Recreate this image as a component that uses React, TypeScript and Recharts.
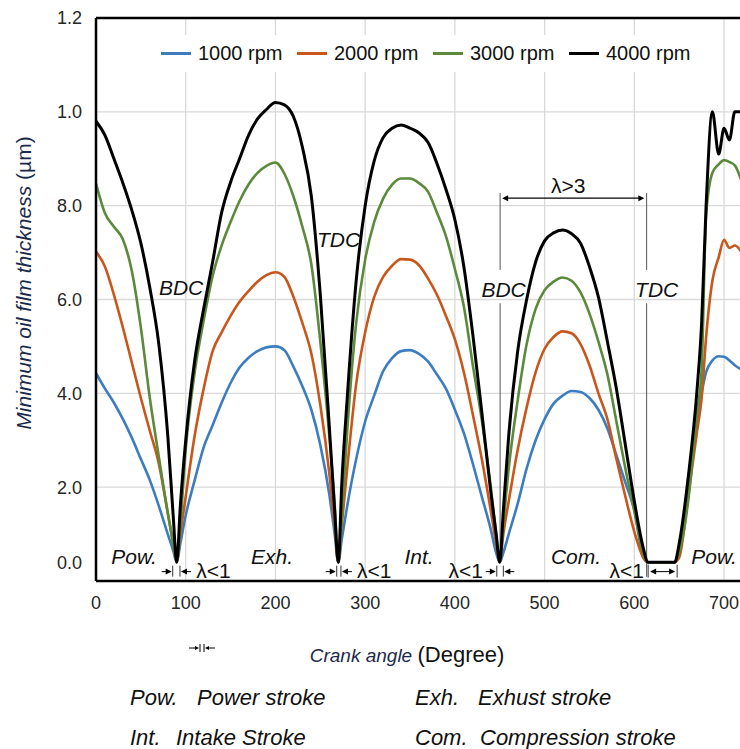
import React from "react";
import { LineChart, Line, XAxis, YAxis, CartesianGrid, ReferenceLine, ReferenceDot } from "recharts";

// ---------- data ----------
const angles = [0,10,20,30,40,50,60,70,80,86,90,94,100,110,120,130,140,150,160,170,180,190,200,210,220,230,240,250,260,266,270,274,280,290,300,310,320,330,340,350,360,370,380,390,400,410,420,430,440,446,450,454,460,470,480,490,500,510,520,530,540,550,560,570,580,590,600,610,615,630,645,650,660,670,675,680,687,694,700,706,712,720];

const rpm1000 = [0.443,0.41,0.38,0.345,0.305,0.26,0.215,0.16,0.10,
  0.065,0.04,0.08,
  0.14,0.215,0.285,0.332,0.38,0.422,0.455,0.476,0.49,0.498,0.50,0.492,0.457,0.415,0.365,0.29,0.185,
  0.10,0.04,0.09,
  0.16,0.26,0.34,0.395,0.447,0.475,0.49,0.492,0.484,0.468,0.44,0.41,0.365,0.315,0.25,0.18,0.11,
  0.06,0.04,0.06,
  0.10,0.165,0.24,0.30,0.345,0.378,0.395,0.405,0.403,0.39,0.365,0.325,0.268,0.21,0.15,0.05,
  0.04,0.04,0.04,0.07,
  0.20,0.34,0.40,0.445,
  0.47,0.479,0.478,0.47,0.46,0.45];

const rpm2000 = [0.702,0.67,0.61,0.54,0.465,0.39,0.32,0.25,0.145,
  0.08,0.04,0.10,
  0.18,0.31,0.41,0.49,0.53,0.565,0.595,0.618,0.638,0.652,0.658,0.648,0.606,0.55,0.485,0.375,0.23,
  0.12,0.04,0.12,
  0.24,0.42,0.53,0.605,0.648,0.672,0.686,0.685,0.673,0.645,0.61,0.565,0.515,0.445,0.355,0.26,0.15,
  0.08,0.04,0.10,
  0.17,0.28,0.37,0.445,0.495,0.52,0.532,0.528,0.505,0.46,0.40,0.345,0.26,0.18,0.105,0.05,
  0.04,0.04,0.04,0.05,
  0.18,0.32,0.39,0.52,
  0.64,0.69,0.727,0.71,0.715,0.70];

const rpm3000 = [0.847,0.784,0.755,0.728,0.66,0.54,0.39,0.265,0.145,
  0.08,0.04,0.12,
  0.28,0.445,0.555,0.65,0.715,0.765,0.81,0.845,0.87,0.885,0.892,0.868,0.82,0.755,0.675,0.51,0.31,
  0.165,0.04,0.14,
  0.32,0.55,0.685,0.765,0.815,0.845,0.858,0.858,0.848,0.83,0.785,0.735,0.665,0.585,0.46,0.343,0.20,
  0.10,0.04,0.12,
  0.24,0.385,0.505,0.58,0.62,0.638,0.647,0.64,0.615,0.57,0.51,0.44,0.34,0.24,0.15,0.06,
  0.04,0.04,0.04,0.06,
  0.17,0.36,0.45,0.78,
  0.87,0.888,0.897,0.893,0.886,0.85];

const rpm4000 = [0.98,0.95,0.90,0.848,0.79,0.72,0.625,0.505,0.31,
  0.14,0.04,0.16,
  0.30,0.47,0.58,0.68,0.785,0.85,0.90,0.95,0.985,1.005,1.02,1.015,0.99,0.925,0.82,0.61,0.33,
  0.15,0.04,0.21,
  0.39,0.64,0.80,0.895,0.945,0.965,0.972,0.965,0.955,0.935,0.89,0.835,0.77,0.67,0.525,0.36,0.19,
  0.10,0.04,0.15,
  0.31,0.49,0.60,0.68,0.725,0.742,0.748,0.74,0.72,0.67,0.605,0.51,0.41,0.29,0.17,0.07,
  0.04,0.04,0.04,0.08,
  0.22,0.41,0.55,0.80,
  1.0,0.91,0.965,0.94,1.0,1.0];

const seriesKeys = ["s1000", "s2000", "s3000", "s4000"];
const seriesNames = ["1000 rpm", "2000 rpm", "3000 rpm", "4000 rpm"];
const seriesValues = [rpm1000, rpm2000, rpm3000, rpm4000];
const seriesColors = ["#3B7DC0", "#C9561A", "#5A8A3A", "#000000"];

const xTicks = [0, 100, 200, 300, 400, 500, 600, 700];
const yTicks = [0, 0.2, 0.4, 0.6, 0.8, 1.0, 1.2];
const yTickLabels = ["0.0", "2.0", "4.0", "6.0", "8.0", "1.0", "1.2"];

// annotations (data coordinates)
const strokeLabels = [
  { angle: 42.4, text: "Pow." },
  { angle: 196.2, text: "Exh." },
  { angle: 360, text: "Int." },
  { angle: 535, text: "Com." },
  { angle: 688.9, text: "Pow." },
];
const deadCenterLabels = [
  { angle: 94.8, value: 0.609, text: "BDC" },
  { angle: 270.3, value: 0.712, text: "TDC" },
  { angle: 454.3, value: 0.605, text: "BDC" },
  { angle: 624.9, value: 0.605, text: "TDC" },
];
const lambdaLowLabels = [131, 310, 412, 591.4];
const gapMarks = [
  { left: 85.5, right: 93.6 },
  { left: 268.3, right: 273 },
  { left: 446.7, right: 454 },
];
const flatMark = { left: 615.4, right: 647.7 };
const highRange = { left: 451.5, right: 612.3, value: 0.816 };
const guideLines = [450.4, 613.7];

const data = angles.map((a, i) => {
  const row: any = { angle: a };
  seriesKeys.forEach((k, j) => (row[k] = seriesValues[j][i]));
  return row;
});

const FONT = "'Liberation Sans', Arial, sans-serif";

const XTick = (p: any) => (
  <text x={p.x} y={p.y} dy={20.4} textAnchor="middle" fontSize={18} fill="#262626" fontFamily={FONT}>
    {p.payload.value}
  </text>
);

const YTick = (p: any) => {
  const idx = yTicks.indexOf(p.payload.value);
  const shift = p.payload.value === 0 ? -18 : 0;
  return (
    <text x={p.x} y={p.y + shift} dy="0.355em" textAnchor="end" fontSize={18} fill="#262626" fontFamily={FONT}>
      {yTickLabels[idx]}
    </text>
  );
};

const head = (tipX: number, y: number, dir: number, key: string) => (
  <polygon key={key} points={`${tipX},${y} ${tipX - dir * 6},${y - 3} ${tipX - dir * 6},${y + 3}`} fill="#000" />
);

const GapShape = (p: any) => {
  const { x1, x2, y1 } = p;
  const y = y1;
  return (
    <g>
      <line x1={x1} y1={y - 6} x2={x1} y2={y + 5} stroke="#333" strokeWidth={1} />
      <line x1={x2} y1={y - 6} x2={x2} y2={y + 5} stroke="#333" strokeWidth={1} />
      <line x1={x1 - 11} y1={y} x2={x1 - 2} y2={y} stroke="#000" strokeWidth={1} />
      {head(x1 - 1, y, 1, "a")}
      <line x1={x2 + 2} y1={y} x2={x2 + 11} y2={y} stroke="#000" strokeWidth={1} />
      {head(x2 + 1, y, -1, "b")}
    </g>
  );
};

const FlatShape = (p: any) => {
  const { x1, x2, y1 } = p;
  const y = y1;
  return (
    <g>
      <line x1={x1} y1={y - 7} x2={x1} y2={y + 6} stroke="#333" strokeWidth={1} />
      <line x1={x2} y1={y - 7} x2={x2} y2={y + 6} stroke="#333" strokeWidth={1} />
      <line x1={x1 + 3} y1={y} x2={x2 - 3} y2={y} stroke="#000" strokeWidth={1} />
      {head(x1 + 2, y, -1, "a")}
      {head(x2 - 2, y, 1, "b")}
    </g>
  );
};

const RangeShape = (p: any) => {
  const { x1, x2, y1 } = p;
  const y = y1;
  return (
    <g>
      <line x1={x1 + 3} y1={y} x2={x2 - 3} y2={y} stroke="#000" strokeWidth={1.2} />
      {head(x1 + 1, y, -1, "a")}
      {head(x2 - 1, y, 1, "b")}
    </g>
  );
};

const textShape = (text: string, italic: boolean, size = 21) => (p: any) => (
  <text x={p.cx} y={p.cy} textAnchor="middle" fontSize={size} fontStyle={italic ? "italic" : "normal"} fill="#111" fontFamily={FONT}>
    {text}
  </text>
);

export default function App() {
  return (
    <div style={{ position: "absolute", left: 0, top: 0, width: 740, height: 749, background: "#fff", fontFamily: FONT, overflow: "hidden" }}>
      <LineChart width={740} height={749} data={data} margin={{ top: 18, right: -2, bottom: 128, left: 0 }}>
        <CartesianGrid stroke="#d9d9d9" strokeWidth={1.3} />
        <XAxis
          dataKey="angle"
          type="number"
          domain={[0, 720]}
          ticks={xTicks}
          tickLine={false}
          axisLine={{ stroke: "#000", strokeWidth: 2.5 }}
          height={40}
          tick={<XTick />}
          interval={0}
        />
        <YAxis
          type="number"
          domain={[0, 1.2]}
          ticks={yTicks}
          tickLine={false}
          tickMargin={8}
          axisLine={{ stroke: "#000", strokeWidth: 2.5 }}
          width={96}
          tick={<YTick />}
          interval={0}
        />
        <ReferenceLine y={1.2} stroke="#000" strokeWidth={2.5} />
        {guideLines.map((g, i) => (
          <ReferenceLine key={"ga" + i} segment={[{ x: g, y: 0.827 }, { x: g, y: 0.663 }]} stroke="#555" strokeWidth={1} />
        ))}
        {guideLines.map((g, i) => (
          <ReferenceLine key={"gb" + i} segment={[{ x: g, y: 0.592 }, { x: g, y: i === 0 ? 0.04 : 0.009 }]} stroke="#555" strokeWidth={1} />
        ))}
        {seriesKeys.map((k, i) => (
          <Line
            key={k}
            type="monotone"
            dataKey={k}
            name={seriesNames[i]}
            stroke={seriesColors[i]}
            strokeWidth={i === 3 ? 3 : 2.6}
            dot={false}
            activeDot={false}
            isAnimationActive={false}
          />
        ))}
        <ReferenceLine
          segment={[{ x: highRange.left, y: highRange.value }, { x: highRange.right, y: highRange.value }]}
          shape={RangeShape}
        />
        {gapMarks.map((g, i) => (
          <ReferenceLine key={"gap" + i} segment={[{ x: g.left, y: 0.02 }, { x: g.right, y: 0.02 }]} shape={GapShape} />
        ))}
        <ReferenceLine segment={[{ x: flatMark.left, y: 0.02 }, { x: flatMark.right, y: 0.02 }]} shape={FlatShape} />
        {deadCenterLabels.map((l, i) => (
          <ReferenceDot key={"dc" + i} x={l.angle} y={l.value} r={0} ifOverflow="visible" shape={textShape(l.text, true)} />
        ))}
        {strokeLabels.map((l, i) => (
          <ReferenceDot key={"sl" + i} x={l.angle} y={0.036} r={0} ifOverflow="visible" shape={textShape(l.text, true)} />
        ))}
        {lambdaLowLabels.map((a, i) => (
          <ReferenceDot key={"ll" + i} x={a} y={0.0064} r={0} ifOverflow="visible" shape={textShape("λ<1", false)} />
        ))}
        <ReferenceDot x={526.2} y={0.827} r={0} ifOverflow="visible" shape={textShape("λ>3", false)} />
      </LineChart>

      {/* legend */}
      <div
        style={{
          position: "absolute",
          left: 150,
          top: 35,
          width: 556,
          height: 37,
          background: "#fff",
          display: "flex",
          alignItems: "center",
          paddingLeft: 11,
          boxSizing: "border-box",
        }}
      >
        {seriesNames.map((n, i) => (
          <div key={n} style={{ display: "flex", alignItems: "center", width: 136, flex: "0 0 auto" }}>
            <div style={{ width: 30, height: 3, background: seriesColors[i], marginRight: 7 }} />
            <span style={{ fontSize: 20, color: "#111", fontFamily: FONT, whiteSpace: "nowrap" }}>{n}</span>
          </div>
        ))}
      </div>

      {/* outside texts */}
      <svg width={740} height={749} style={{ position: "absolute", left: 0, top: 0, pointerEvents: "none" }} fontFamily={FONT}>
        <text transform="translate(31,283) rotate(-90)" textAnchor="middle" fontSize={21} fill="#1b2a4a">
          <tspan fontStyle="italic">Minimum oil film thickness </tspan>
          <tspan>(µm)</tspan>
        </text>
        <text x={407} y={662} textAnchor="middle" fill="#111">
          <tspan fontStyle="italic" fontSize={19} fill="#1b2a4a">Crank angle </tspan>
          <tspan fontSize={22}>(Degree)</tspan>
        </text>
        <g stroke="#000" strokeWidth={1}>
          <line x1={189} y1={648} x2={197} y2={648} />
          <line x1={200} y1={644} x2={200} y2={652} />
          <line x1={204} y1={644} x2={204} y2={652} />
          <line x1={207} y1={648} x2={215} y2={648} />
        </g>
        <polygon points="199,648 195,646 195,650" fill="#000" />
        <polygon points="205,648 209,646 209,650" fill="#000" />
        <g fontSize={22} fontStyle="italic" fill="#111">
          <text x={130} y={705}>Pow.</text>
          <text x={197} y={705}>Power stroke</text>
          <text x={415} y={705}>Exh.</text>
          <text x={478} y={705}>Exhust stroke</text>
          <text x={130} y={745}>Int.</text>
          <text x={176} y={745}>Intake Stroke</text>
          <text x={415} y={745}>Com.</text>
          <text x={480} y={745}>Compression stroke</text>
        </g>
      </svg>
    </div>
  );
}
